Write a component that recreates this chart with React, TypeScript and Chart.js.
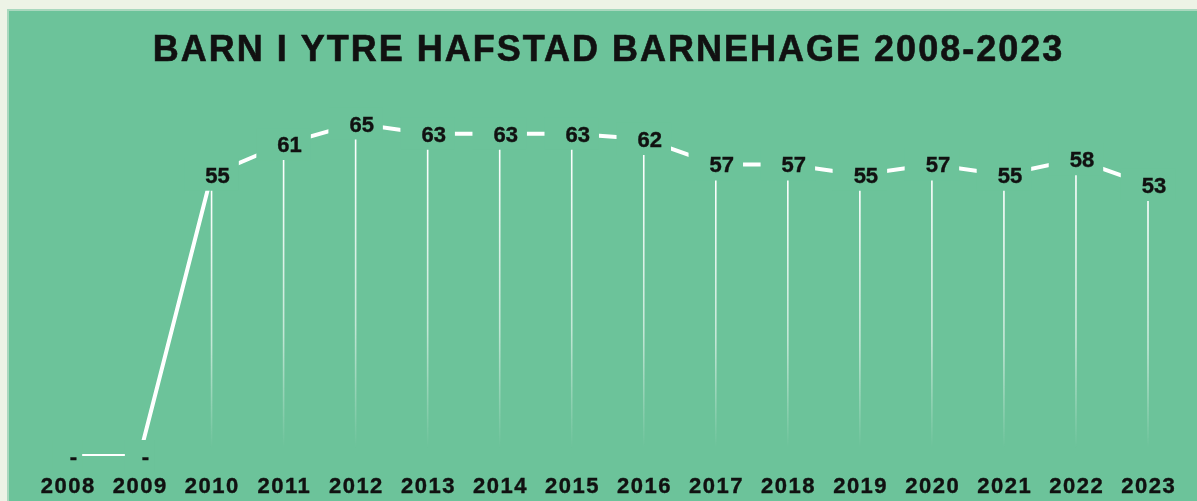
import React, { useEffect, useRef } from "react";
import { Chart, registerables } from "chart.js";

Chart.register(...registerables);

const TITLE = "BARN I YTRE HAFSTAD BARNEHAGE 2008-2023";
const years = ["2008", "2009", "2010", "2011", "2012", "2013", "2014", "2015", "2016", "2017", "2018", "2019", "2020", "2021", "2022", "2023"];
const children = [0, 0, 55, 61, 65, 63, 63, 63, 62, 57, 57, 55, 57, 55, 58, 53];
const yMin = 0;
const yMax = 70;

const GREEN = "rgb(108,195,154)";
const TEXT = "#111111";
const FONT = '"Liberation Sans", Arial, sans-serif';

const overlay = {
  id: "overlay",
  afterDatasetsDraw(chart: any) {
    const ctx = chart.ctx as CanvasRenderingContext2D;
    const meta = chart.getDatasetMeta(0);
    const bottom = chart.chartArea.bottom;
    ctx.save();
    ctx.font = `bold 22px ${FONT}`;
    (ctx as any).letterSpacing = "0px";
    meta.data.forEach((pt: any, i: number) => {
      const v = children[i];
      const text = v > 0 ? String(v) : "-";
      const w = ctx.measureText(text).width;
      const bw = v > 0 ? w + 30 : w + 22;
      const bh = 32;
      ctx.fillStyle = GREEN;
      ctx.fillRect(pt.x - bw / 2, pt.y - bh / 2, bw, bh);
      if (v > 0) {
        const y0 = pt.y + bh / 2;
        const y1 = bottom - 8;
        const g = ctx.createLinearGradient(0, y0, 0, y1);
        g.addColorStop(0, "rgba(255,255,255,1)");
        g.addColorStop(0.6, "rgba(255,255,255,0.6)");
        g.addColorStop(1, "rgba(255,255,255,0)");
        ctx.strokeStyle = g;
        ctx.lineWidth = 1.6;
        ctx.beginPath();
        ctx.moveTo(pt.x, y0);
        ctx.lineTo(pt.x, y1);
        ctx.stroke();
      }
      ctx.fillStyle = TEXT;
      ctx.strokeStyle = TEXT;
      ctx.lineWidth = 0.4;
      ctx.textAlign = "center";
      ctx.textBaseline = "alphabetic";
      ctx.fillText(text, pt.x + 6, pt.y + 8);
      ctx.strokeText(text, pt.x + 6, pt.y + 8);
    });
    // x-axis labels
    const xs = chart.scales.x;
    ctx.font = `bold 22px ${FONT}`;
    (ctx as any).letterSpacing = "1.5px";
    ctx.fillStyle = TEXT;
    ctx.strokeStyle = TEXT;
    ctx.lineWidth = 0.4;
    ctx.textAlign = "center";
    ctx.textBaseline = "alphabetic";
    years.forEach((lab, i) => {
      const x = xs.getPixelForValue(i);
      ctx.fillText(lab, x + 0.75, 493);
      ctx.strokeText(lab, x + 0.75, 493);
    });
    // title
    ctx.font = `bold 36px ${FONT}`;
    (ctx as any).letterSpacing = "2px";
    ctx.lineWidth = 0.6;
    ctx.fillText(TITLE, 608.5, 61);
    ctx.strokeText(TITLE, 608.5, 61);
    ctx.restore();
  },
};

export default function App() {
  const ref = useRef<HTMLCanvasElement>(null);
  useEffect(() => {
    if (!ref.current) return;
    const chart = new Chart(ref.current, {
      type: "line",
      data: {
        labels: years,
        datasets: [
          {
            data: children,
            borderColor: "#ffffff",
            borderWidth: 4,
            pointRadius: 0,
            tension: 0,
            fill: false,
            borderCapStyle: "butt",
          },
        ],
      },
      options: {
        responsive: false,
        animation: false,
        layout: { padding: { left: 67.5, right: 49, top: 98, bottom: 45 } },
        scales: {
          x: { type: "category", display: false, offset: false },
          y: { display: false, min: yMin, max: yMax },
        },
        plugins: {
          legend: { display: false },
          tooltip: { enabled: false },
          title: { display: false },
        },
      },
      plugins: [overlay],
    });
    return () => chart.destroy();
  }, []);
  return (
    <div style={{ position: "fixed", left: 0, top: 0, width: 1197, height: 501, background: "#edf3e6", overflow: "hidden" }}>
      <div
        style={{
          position: "absolute",
          left: 7,
          top: 9,
          right: 0,
          bottom: 0,
          background: GREEN,
          borderTop: "2px solid #a9d8be",
          borderLeft: "2px solid #a9d8be",
        }}
      />
      <canvas ref={ref} width={1197} height={501} style={{ position: "absolute", left: 0, top: 0 }} />
    </div>
  );
}
